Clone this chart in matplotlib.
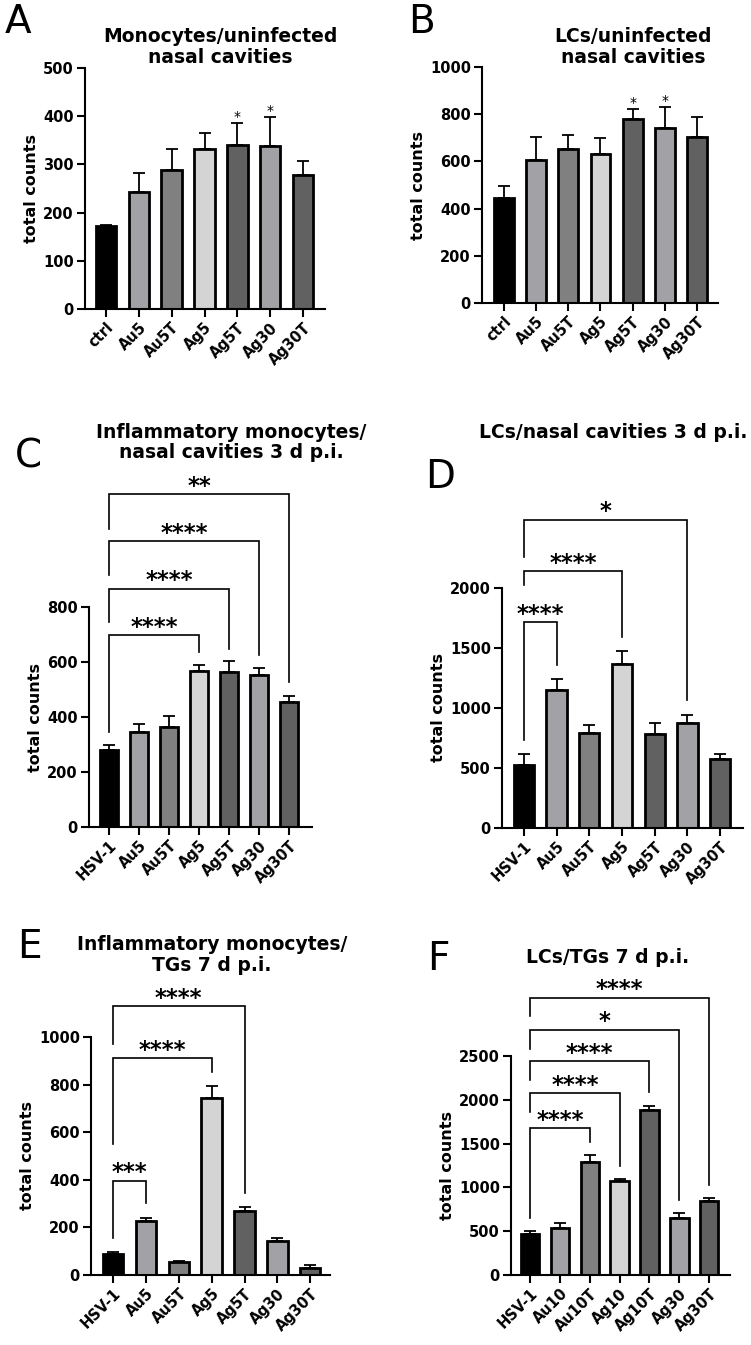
import numpy as np
import matplotlib
matplotlib.use("Agg")
import matplotlib.pyplot as plt

# groups
names_ctrl = ["ctrl", "Au5", "Au5T", "Ag5", "Ag5T", "Ag30", "Ag30T"]
names_hsv = ["HSV-1", "Au5", "Au5T", "Ag5", "Ag5T", "Ag30", "Ag30T"]
names_f = ["HSV-1", "Au10", "Au10T", "Ag10", "Ag10T", "Ag30", "Ag30T"]

# means and upper error
a_mean = [172, 243, 289, 331, 341, 338, 278]
a_err = [3, 39, 42, 35, 45, 60, 30]
b_mean = [445, 607, 652, 630, 780, 742, 705]
b_err = [50, 95, 60, 70, 40, 90, 85]
c_mean = [280, 345, 362, 568, 562, 553, 455]
c_err = [20, 30, 42, 20, 40, 27, 20]
d_mean = [526, 1150, 789, 1363, 781, 873, 576]
d_err = [92, 88, 70, 113, 97, 72, 42]
e_mean = [88, 227, 56, 743, 271, 144, 31]
e_err = [7, 11, 4, 52, 15, 13, 11]
f_mean = [467, 539, 1292, 1075, 1881, 653, 843]
f_err = [38, 57, 83, 23, 53, 50, 31]

a_stars = ["", "", "", "", "*", "*", ""]
b_stars = ["", "", "", "", "*", "*", ""]

# comparisons vs first group: (target, bracket top, left leg end, right leg end, label)
c_brackets = [(3, 697, 345, 636, "****"), (4, 867, 745, 648, "****"),
              (5, 1040, 915, 624, "****"), (6, 1210, 1085, 527, "**")]
d_brackets = [(1, 1717, 734, 1357, "****"), (3, 2139, 2022, 1593, "****"),
              (5, 2568, 2258, 1066, "*")]
e_brackets = [(1, 397, 154, 302, "***"), (3, 910, 551, 855, "****"),
              (4, 1129, 972, 344, "****")]
f_brackets = [(2, 1679, 646, 1520, "****"), (3, 2078, 1862, 1242, "****"),
              (4, 2439, 2222, 2089, "****"), (5, 2800, 2583, 855, "*"),
              (6, 3165, 2952, 1026, "****")]

colors = ["black", "#a2a1a6", "#808080", "#d4d4d4", "#616161", "#a2a1a6", "#616161"]

W, H = 751, 1345
fig = plt.figure(figsize=(W / 100, H / 100), dpi=100)


def panel(rect, xlim, names, mean, err, ymax, ystep, brackets=None, stars=None):
    l, t, r, b = rect
    ax = fig.add_axes([l / W, 1 - b / H, (r - l) / W, (b - t) / H])
    x = np.arange(len(names))
    ax.bar(x, mean, width=0.62, color=colors, edgecolor="black", linewidth=2.0, zorder=2)
    ax.errorbar(x, mean, yerr=[np.zeros(len(err)), err], fmt="none", ecolor="black",
                elinewidth=1.3, capsize=4, capthick=1.3, zorder=1)
    ax.set_xlim(xlim)
    ax.set_ylim(0, ymax)
    ax.set_yticks(np.arange(0, ymax + 1, ystep))
    ax.set_xticks(x)
    ax.set_xticklabels(names, rotation=45, ha="right", rotation_mode="anchor",
                       fontsize=10.5, fontweight="bold")
    for lab in ax.get_yticklabels():
        lab.set_fontsize(10.5)
        lab.set_fontweight("bold")
    ax.spines["top"].set_visible(False)
    ax.spines["right"].set_visible(False)
    ax.spines["left"].set_linewidth(1.5)
    ax.spines["bottom"].set_linewidth(1.5)
    ax.tick_params(direction="out", length=6, width=1.5, pad=2)
    ax.set_ylabel("total counts", fontsize=11.5, fontweight="bold", labelpad=3)
    if stars:
        for i, s in enumerate(stars):
            if s:
                ax.annotate(s, (i, mean[i] + err[i]), xytext=(0, 1.5), textcoords="offset points",
                            ha="center", va="baseline", fontsize=10, annotation_clip=False)
    if brackets:
        for j, top, lb, rb, s in brackets:
            ax.plot([0, 0, j, j], [lb, top, top, rb], color="black", lw=1.2,
                    clip_on=False, solid_joinstyle="miter")
            ax.annotate(s, (j / 2, top), xytext=(0, 1), textcoords="offset points",
                        ha="center", va="baseline", fontsize=16.5, fontweight="bold",
                        annotation_clip=False)
    return ax


panel((85, 68, 325, 309), (-0.64, 6.67), names_ctrl, a_mean, a_err, 500, 100, stars=a_stars)
panel((482, 67, 718, 303), (-0.68, 6.65), names_ctrl, b_mean, b_err, 1000, 200, stars=b_stars)
panel((89, 607, 312, 827), (-0.67, 6.77), names_hsv, c_mean, c_err, 800, 200, brackets=c_brackets)
panel((502, 588, 743, 828), (-0.67, 6.7), names_hsv, d_mean, d_err, 2000, 500, brackets=d_brackets)
panel((91, 1037, 330, 1275), (-0.67, 6.6), names_hsv, e_mean, e_err, 1000, 200, brackets=e_brackets)
panel((511, 1056, 730, 1275), (-0.64, 6.7), names_f, f_mean, f_err, 2500, 500, brackets=f_brackets)

# titles
titles = [("Monocytes/uninfected\nnasal cavities", 220, 62),
          ("LCs/uninfected\nnasal cavities", 633, 62),
          ("Inflammatory monocytes/\nnasal cavities 3 d p.i.", 231, 457),
          ("LCs/nasal cavities 3 d p.i.", 613, 437),
          ("Inflammatory monocytes/\nTGs 7 d p.i.", 212, 970),
          ("LCs/TGs 7 d p.i.", 608, 962)]
for txt, cx, base in titles:
    fig.text(cx / W, 1 - (base + 5) / H, txt, ha="center", va="bottom", fontsize=13.5,
             fontweight="bold", linespacing=1.1)

letters = [("A", 5, 33), ("B", 408, 33), ("C", 15, 468), ("D", 425, 488),
           ("E", 17, 958), ("F", 427, 970)]
for s, lx, base in letters:
    fig.text(lx / W, 1 - base / H, s, ha="left", va="baseline", fontsize=28)

fig.savefig("out.png", dpi=100)
